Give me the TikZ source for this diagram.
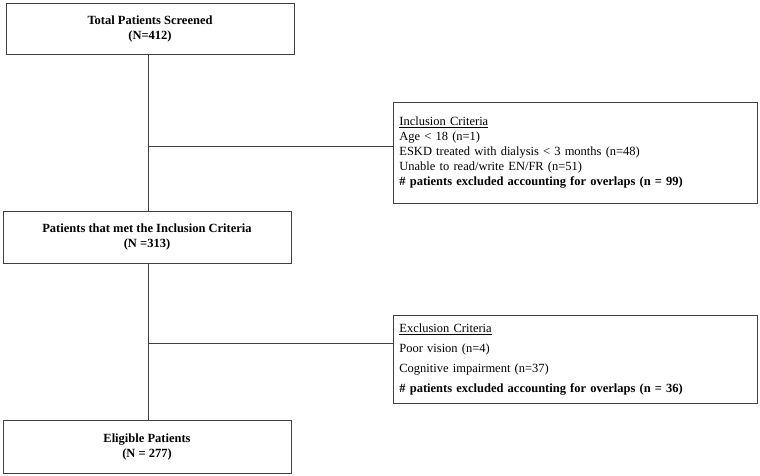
\documentclass[tikz,border=0pt]{standalone}
\usepackage{fontspec}
\setmainfont{Liberation Serif}
\usetikzlibrary{positioning}
\tikzset{
  mainbox/.style={draw=black!75, line width=0.8pt, minimum width=288pt, align=center, font=\fontsize{12.5}{15}\selectfont\bfseries, inner sep=0pt},
  critbox/.style={draw=black!75, line width=0.8pt, minimum width=364pt, align=left, text width=352pt, inner xsep=6pt, font=\fontsize{12.5}{15}\selectfont, anchor=north west},
  link/.style={draw=black!75, line width=0.8pt}
}
\begin{document}
\begin{tikzpicture}[x=1pt,y=-1pt]
  \useasboundingbox (0,0) rectangle (760,476);
  % main flow
  \node[mainbox, minimum height=51pt] (screened) at (150,28.5) {Total Patients Screened\\(N=412)};
  \node[mainbox, minimum height=52pt] (included) at (147,237) {Patients that met the Inclusion Criteria\\(N =313)};
  \node[mainbox, minimum height=53pt] (eligible) at (147,446.5) {Eligible Patients\\(N = 277)};
  % side boxes
  \node[critbox, minimum height=101pt] (inclusion) at (393,102) {\underline{Inclusion Criteria}\\Age < 18 (n=1)\\ESKD treated with dialysis < 3 months (n=48)\\Unable to read/write EN/FR (n=51)\\\textbf{\# patients excluded accounting for overlaps (n = 99)}};
  \node[critbox, minimum height=88pt, font=\fontsize{12.5}{20}\selectfont] (exclusion) at (393,315) {\underline{Exclusion Criteria}\\Poor vision (n=4)\\Cognitive impairment (n=37)\\\textbf{\# patients excluded accounting for overlaps (n = 36)}};
  % junctions
  \coordinate (j1) at (148,146);
  \coordinate (j2) at (148,343);
  \draw[link] (screened.south -| j1) -- (included.north -| j1);
  \draw[link] (included.south -| j2) -- (eligible.north -| j2);
  \draw[link] (j1) -- (j1 -| inclusion.west);
  \draw[link] (j2) -- (j2 -| exclusion.west);
\end{tikzpicture}
\end{document}
